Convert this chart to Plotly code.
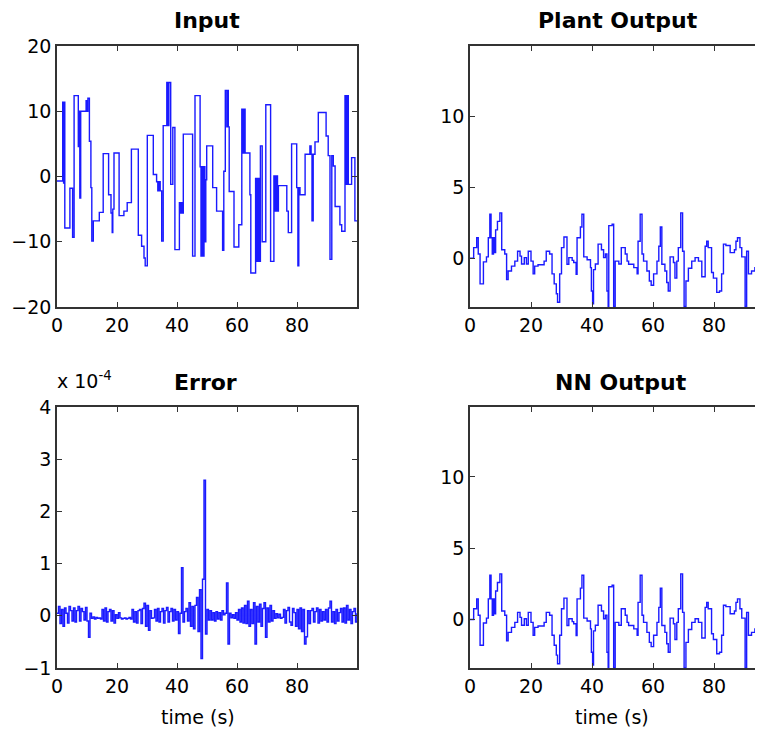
import plotly.graph_objects as go
from plotly.subplots import make_subplots

# Input: step signal, breakpoints (time, value)
input_t = [0, 1.9, 2.2, 2.4, 2.6, 4.3, 5.2, 5.7, 7.1, 7.4, 7.6, 7.9, 9.7, 10.0, 10.3, 10.8,
           11.3, 11.6, 12.1, 14.1, 15.4, 17.2, 18.0, 18.4, 18.6, 19.0, 20.7, 22.3, 23.4, 24.8,
           27.1, 28.2, 29.0, 29.4, 30.1, 32.1, 33.2, 33.6, 34.0, 34.4, 34.9, 35.4, 36.6, 37.0,
           37.3, 37.9, 38.6, 39.3, 40.8, 41.2, 41.5, 41.8, 42.1, 45.2, 46.0, 47.7, 48.0, 48.3,
           48.6, 49.0, 49.3, 49.6, 49.9, 51.9, 53.2, 55.2, 55.6, 56.1, 56.6, 56.8, 57.1, 57.4,
           59.0, 60.6, 61.6, 62.0, 62.3, 62.7, 64.3, 64.6, 66.2, 66.6, 67.0, 67.4, 67.8, 68.4,
           69.6, 71.2, 72.3, 72.7, 73.1, 73.5, 73.8, 76.6, 77.1, 78.2, 79.9, 80.3, 80.6, 81.0,
           82.7, 84.3, 84.7, 85.0, 85.4, 86.0, 87.1, 89.7, 90.4, 91.0, 91.6, 92.1, 92.7, 94.3,
           94.9, 96.0, 96.4, 96.8, 97.1, 98.2, 99.3, 100]
input_v = [-0.7, 11.4, -1.0, 11.4, -7.9, -1.8, -9.3, 12.4, 4.6, 10.0, -3.3, 10.0, 11.6, 10.0, 12.0, 5.4,
           -1.7, -9.9, -6.8, -5.5, 3.5, -2.8, -5.6, -8.6, -5.0, 3.6, -6.0, -5.3, -4.0, 4.2,
           -9.0, -10.7, -12.5, -13.7, 6.3, 0.3, -0.8, -2.2, -0.8, -2.2, -9.9, 7.8, 14.4, 7.8,
           14.4, -1.2, 7.5, -11.2, -4.0, -5.6, -4.0, -5.6, 6.5, -12.2, 12.4, 1.5, -12.2, 1.5,
           -12.2, 1.5, -10.0, -0.5, 4.7, -1.7, -5.3, -11.3, 0.8, 13.2, 7.6, 13.2, 7.6, -2.3,
           -10.8, -7.4, 10.3, 3.6, 10.3, 3.6, -2.8, -14.8, -0.3, -13.0, -0.3, -13.0, 4.7, -10.0,
           11.0, -13.0, 0.1, -5.3, 0.1, -5.3, -1.4, -5.3, -8.6, 5.0, -1.7, -13.7, -1.7, -2.8,
           3.4, 4.7, 3.4, -6.8, 3.4, 5.3, 9.8, 6.2, 3.2, -12.7, 3.2, 1.6, -4.6, -7.4,
           -8.4, 12.4, -1.2, 12.4, -1.2, 2.9, -6.8, -6.8]

# Plant output (NN output follows it), breakpoints (time, value)
plant_t = [0, 0.6, 1.2, 2.2, 2.7, 3.3, 4.4, 5.4, 6.0, 6.5, 6.9, 7.3, 7.7, 8.1, 8.4, 9.0, 9.8,
           10.4, 11.4, 12.0, 12.5, 13.6, 14.7, 15.6, 16.4, 16.9, 17.8, 18.5, 19.1, 20.0, 20.7,
           21.2, 22.3, 24.3, 25.0, 26.1, 26.9, 27.6, 28.3, 28.7, 29.4, 30.0, 30.8, 31.8, 32.4,
           33.5, 34.0, 34.8, 35.1, 36.2, 36.7, 37.3, 38.4, 39.5, 39.8, 40.2, 40.5, 41.1, 42.0,
           43.1, 43.8, 44.4, 44.9, 45.3, 45.5, 46.6, 47.1, 47.6, 48.8, 49.6, 50.9, 51.5, 52.0,
           53.7, 54.8, 55.1, 55.8, 56.4, 56.9, 58.0, 58.8, 59.4, 60.2, 61.3, 61.9, 62.4, 62.9,
           63.9, 64.5, 65.0, 65.6, 66.7, 67.2, 67.8, 68.3, 69.1, 69.7, 70.2, 70.8, 71.6, 72.7,
           73.8, 74.9, 76.0, 77.1, 77.6, 78.1, 79.2, 79.8, 80.9, 81.8, 82.5, 83.1, 83.9, 85.3,
           86.7, 87.2, 87.7, 88.5, 89.1, 90.2, 90.7, 91.3, 92.3, 93.4, 94.5, 97.0, 98.0, 99.0, 100]
plant_v = [0.0, 0.0, 0.75, 1.45, 0.3, -1.8, -0.25, 0.1, 1.45, 3.1, 1.45, 0.3, 1.45, 0.4, 2.0, 2.6, 3.2,
           0.6, 0.3, -1.5, -0.9, -0.55, -0.2, 0.5, 0.15, -0.4, 0.05, -0.4, 0.5, -0.2, -1.1,
           -0.55, -0.45, -0.2, 0.5, 0.3, -1.1, -1.8, -2.5, -3.1, -1.1, 0.75, 1.5, -0.42, 0.05,
           -0.15, -0.3, -1.13, 1.45, 2.2, 3.1, 0.1, -0.1, -0.66, -2.3, -3.2, -0.8, -0.4, 1.0,
           0.6, 0.05, 0.3, -2.3, -3.4, 2.3, 2.4, -3.4, -0.2, -0.4, 0.75, 0.3, -0.2, -0.42,
           -0.66, -1.1, 1.2, 3.1, 0.3, -0.2, -0.9, -1.6, -1.9, -1.1, -0.2, 0.85, 2.2, -0.42,
           -0.9, -1.7, -2.3, 0.1, -0.3, -1.4, -0.2, 0.75, 3.2, 0.5, -3.4, -1.6, -0.7, -0.2,
           0.05, -0.2, -1.3, 0.85, 1.2, 0.75, -1.0, -1.4, -2.4, -2.3, -1.1, 1.0, 0.9, 0.4,
           0.6, 1.2, 1.45, 0.75, 0.1, -3.4, 0.5, -1.1, -0.9, -0.66, 1.2, 0.5, -0.3, 0.2, 0.0]

# Error (units of 1e-4), sampled every 0.5 s from 0 to 100
error_e4 = [
    0.05, 0.18, -0.15, 0.12, -0.2, 0.15, 0.05, -0.14, 0.18, 0.1, -0.1, 0.15, -0.12, 0.1, 0.18, -0.1, 0.14, 0.08, -0.08, 0.16,
    -0.1, -0.41, 0.05, -0.05, -0.02, -0.06, -0.03, -0.05, -0.04, -0.06, 0.12, -0.1, 0.15, -0.12, 0.08, 0.12, -0.1, 0.1, -0.14, 0.02,
    -0.05, 0.06, -0.04, -0.06, -0.05, -0.04, -0.06, -0.05, -0.03, -0.06, 0.12, -0.12, 0.08, -0.14, 0.1, 0.12, -0.15, 0.14, 0.24, -0.2,
    0.2, -0.28, 0.1, -0.05, -0.04, 0.12, -0.1, 0.14, -0.12, 0.08, 0.14, -0.14, 0.1, 0.16, -0.12, 0.08, 0.14, -0.1, 0.12, -0.08,
    0.08, -0.34, 0.05, 0.92, -0.12, 0.08, 0.14, -0.1, 0.25, -0.2, 0.18, -0.25, 0.2, 0.35, -0.3, 0.5, -0.82, 0.7, 2.6, -0.35,
    0.12, -0.08, 0.1, -0.08, 0.06, -0.1, 0.08, -0.06, 0.06, -0.08, 0.1, 0.02, 0.05, 0.63, -0.54, 0.05, -0.04, 0.02, -0.05, 0.06,
    -0.08, 0.12, -0.12, 0.15, -0.14, 0.2, -0.15, 0.28, -0.2, 0.12, -0.15, 0.25, -0.54, 0.18, -0.12, 0.22, -0.2, 0.14, 0.25, -0.41,
    0.15, -0.12, 0.2, -0.1, 0.1, -0.05, 0.04, -0.04, 0.03, -0.05, -0.03, 0.12, -0.14, 0.1, 0.16, -0.12, -0.18, 0.14, 0.06, -0.2,
    0.12, -0.25, 0.15, -0.3, 0.12, -0.54, -0.4, 0.1, -0.15, 0.1, 0.14, -0.12, 0.08, 0.15, -0.14, 0.12, -0.1, 0.08, -0.08, 0.12,
    -0.12, 0.15, 0.28, -0.12, 0.08, -0.15, 0.12, -0.1, 0.06, 0.14, -0.12, 0.15, -0.14, 0.2, -0.08, 0.12, -0.15, 0.08, 0.14, -0.12,
    0.05,
]
error_t = [i * 0.5 for i in range(len(error_e4))]

titles = ["Input", "Plant Output", "Error", "NN Output"]
x_ticks = [0, 20, 40, 60, 80]

# the page body adds an 8 px margin on every side; positions below are page pixels
OFF = 8
W, H = 763 - OFF, 735 - 2 * OFF
BLUE = "#1a1aff"
AX = "#333333"
FONT = "DejaVu Sans"


def px_x(x):
    return (x - OFF) / W


def px_y(y):
    return 1 - (y - OFF) / H


fig = make_subplots(rows=2, cols=2)

line = dict(color=BLUE, width=1.4, shape="hv")
fig.add_trace(go.Scatter(x=input_t, y=input_v, mode="lines", line=line), row=1, col=1)
fig.add_trace(go.Scatter(x=plant_t, y=plant_v, mode="lines", line=line), row=1, col=2)
fig.add_trace(go.Scatter(x=error_t, y=error_e4, mode="lines", line=line), row=2, col=1)
fig.add_trace(go.Scatter(x=plant_t, y=plant_v, mode="lines", line=line), row=2, col=2)

# page-pixel boxes of each axes (left, right, top, bottom)
boxes = {
    (1, 1): (57, 357, 46, 307),
    (1, 2): (470, 763, 46, 307),
    (2, 1): (57, 357, 407, 668),
    (2, 2): (470, 763, 407, 668),
}
yranges = {(1, 1): [-20, 20], (1, 2): [-3.43, 14.95], (2, 1): [-1, 4], (2, 2): [-3.4, 14.9]}
yticks = {(1, 1): [-20, -10, 0, 10, 20], (1, 2): [0, 5, 10], (2, 1): [-1, 0, 1, 2, 3, 4], (2, 2): [0, 5, 10]}

tickfont = dict(family=FONT, size=19, color="black")
for (r, c), (l, rt, tp, bt) in boxes.items():
    right_col = c == 2
    fig.update_xaxes(
        domain=[px_x(l), min(1.0, px_x(rt))],
        range=[0, (rt - l) / 3.05] if right_col else [0, 100],
        tickvals=x_ticks, ticks="inside", ticklen=5, tickcolor=AX,
        showline=True, linecolor=AX, linewidth=1.5, mirror="ticks",
        showgrid=False, zeroline=False, tickfont=tickfont, automargin=False,
        row=r, col=c,
    )
    fig.update_yaxes(
        domain=[px_y(bt), px_y(tp)],
        range=yranges[(r, c)], tickvals=yticks[(r, c)],
        ticks="inside", ticklen=5, tickcolor=AX,
        showline=True, linecolor=AX, linewidth=1.5,
        mirror=False if right_col else "ticks",
        showgrid=False, zeroline=False, tickfont=tickfont, automargin=False,
        row=r, col=c,
    )

annotations = []
title_pos = [(207, 20), (618, 20), (206, 382), (621, 382)]
for txt, (px, py) in zip(titles, title_pos):
    annotations.append(dict(
        text=txt, x=px_x(px), y=px_y(py), xref="paper", yref="paper",
        xanchor="center", yanchor="middle", showarrow=False,
        font=dict(family=FONT, size=22, color="black", weight="bold"),
    ))
for px in (198, 612):
    annotations.append(dict(
        text="time (s)", x=px_x(px), y=px_y(717), xref="paper", yref="paper",
        xanchor="center", yanchor="middle", showarrow=False,
        font=dict(family=FONT, size=19, color="black"),
    ))
annotations.append(dict(
    text="x 10<sup>-4</sup>", x=px_x(55), y=px_y(380), xref="paper", yref="paper",
    xanchor="left", yanchor="middle", showarrow=False,
    font=dict(family=FONT, size=19, color="black"),
))

fig.update_layout(
    width=W, height=H,
    margin=dict(l=0, r=0, t=0, b=0),
    paper_bgcolor="white", plot_bgcolor="white",
    showlegend=False,
    annotations=annotations,
)

fig.write_html("out.html")
